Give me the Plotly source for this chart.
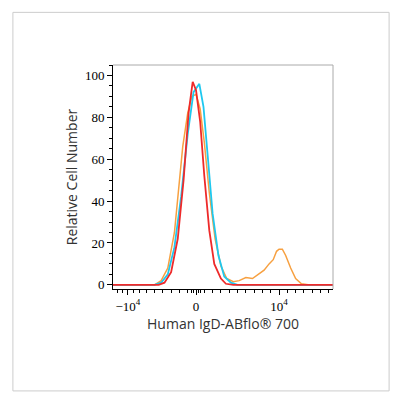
import plotly.graph_objects as go

# x in display (biexponential-like) units: 0 -> 0, 10^4 -> 1
red_x = [-1.0, -0.45, -0.38, -0.3, -0.22, -0.15, -0.09, -0.04, 0.0, 0.05, 0.1, 0.16, 0.22, 0.3, 0.36, 0.45, 1.65]
red_y = [0, 0, 1, 6, 22, 50, 82, 97, 93, 78, 52, 26, 10, 3, 0.5, 0, 0]
blue_x = [-1.0, -0.5, -0.42, -0.34, -0.26, -0.18, -0.1, -0.03, 0.04, 0.09, 0.14, 0.2, 0.27, 0.34, 0.42, 0.5, 1.65]
blue_y = [0, 0, 1, 5, 18, 42, 72, 92, 96, 85, 62, 34, 14, 4, 1, 0, 0]
orange_x = [-1.0, -0.5, -0.42, -0.34, -0.26, -0.2, -0.16, -0.1, -0.05, 0.0, 0.05, 0.1, 0.16, 0.23, 0.3, 0.37, 0.45, 0.52, 0.6, 0.68,
            0.75, 0.82, 0.88, 0.93, 0.97, 1.0, 1.04, 1.08, 1.14, 1.2, 1.27, 1.35, 1.65]
orange_y = [0, 0, 2, 8, 25, 50, 66, 82, 90, 91, 84, 68, 44, 22, 9, 3, 1.5, 2, 3.5, 3,
            5, 7, 10, 12, 16, 17, 17, 14, 8, 3, 0.5, 0, 0]

fig = go.Figure()
fig.add_trace(go.Scatter(x=orange_x, y=orange_y, mode="lines", line=dict(color="#f7a040", width=1.5)))
fig.add_trace(go.Scatter(x=blue_x, y=blue_y, mode="lines", line=dict(color="#1ec8ef", width=1.8)))
fig.add_trace(go.Scatter(x=red_x, y=red_y, mode="lines", line=dict(color="#ee2a2a", width=1.8)))

fig.add_shape(type="rect", xref="paper", yref="paper", x0=-0.455, x1=1.255, y0=-0.455, y1=1.235,
              line=dict(color="#cccccc", width=1))
fig.add_shape(type="line", xref="paper", yref="paper", x0=0, x1=1, y0=1, y1=1, line=dict(color="#aaaaaa", width=1))
fig.add_shape(type="line", xref="paper", yref="paper", x0=1, x1=1, y0=0, y1=1, line=dict(color="#aaaaaa", width=1))

fig.update_layout(
    width=400, height=400, showlegend=False,
    paper_bgcolor="white", plot_bgcolor="white",
    margin=dict(l=105, r=75, t=57, b=119),
    xaxis=dict(range=[-1.0, 1.65], tickvals=[-0.82, 0, 1], ticktext=["\u221210<sup>4</sup>", "0", "10<sup>4</sup>"],
               ticks="outside", ticklen=5, tickcolor="black", showgrid=False, zeroline=False,
               showline=True, linecolor="black",
               tickfont=dict(family="Liberation Serif", size=13, color="black"),
               title=dict(text="Human IgD-ABflo\u00ae 700", font=dict(family="Open Sans", size=14, color="#333"), standoff=4),
               minor=dict(tickvals=[-0.95, -0.88, -0.75, -0.68, -0.6, -0.5, -0.4, -0.3, -0.2, -0.1, -0.05, -0.03, 0.03, 0.05,
                                    0.1, 0.2, 0.3, 0.4, 0.5, 0.6, 0.7, 0.8, 0.9, 1.1, 1.2, 1.3, 1.4, 1.5, 1.6],
                          ticks="outside", ticklen=3, tickcolor="black")),
    yaxis=dict(range=[-2, 105], tickvals=[0, 20, 40, 60, 80, 100], ticks="outside", ticklen=5, tickcolor="black",
               showgrid=False, zeroline=False, showline=True, linecolor="black",
               tickfont=dict(family="Liberation Serif", size=13, color="black"),
               title=dict(text="Relative Cell Number", font=dict(family="Open Sans", size=14, color="#333"), standoff=4),
               minor=dict(dtick=5, ticks="outside", ticklen=3, tickcolor="black")),
)

fig.write_html("out.html")
